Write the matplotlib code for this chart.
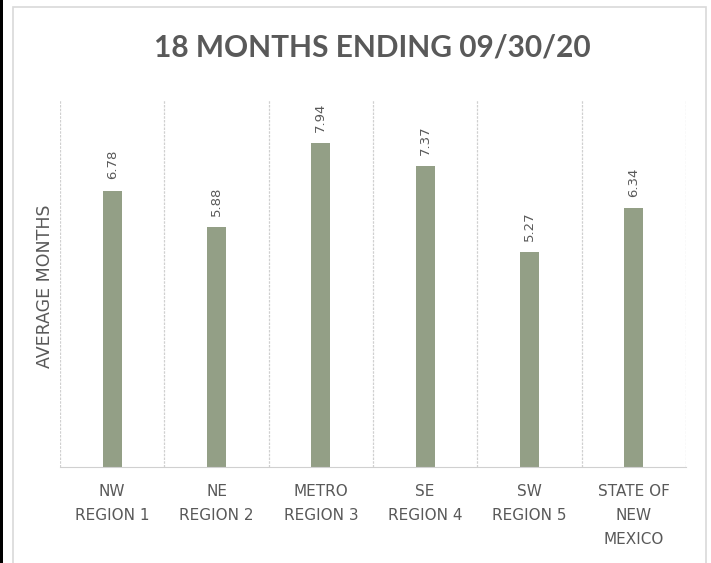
import matplotlib.pyplot as plt
from matplotlib.patches import Rectangle

categories = ["NW\nREGION 1", "NE\nREGION 2", "METRO\nREGION 3", "SE\nREGION 4", "SW\nREGION 5", "STATE OF\nNEW\nMEXICO"]
values = [6.78, 5.88, 7.94, 7.37, 5.27, 6.34]
value_labels = ["6.78", "5.88", "7.94", "7.37", "5.27", "6.34"]

BAR_COLOR = '#939f86'
TEXT_COLOR = '#595959'
GRID_COLOR = '#d0d0d0'

fig = plt.figure(figsize=(7.11, 5.63), dpi=100)
W, H = 711, 563

# chart frame and the dark strip at the left edge
fig.patches.append(Rectangle((13 / W, -0.05), (706 - 13) / W, (563 - 7) / H + 0.05,
                             transform=fig.transFigure, fill=False, edgecolor='#d9d9d9', lw=1.2))
fig.patches.append(Rectangle((0, 0), 3 / W, 1, transform=fig.transFigure,
                             facecolor='black', edgecolor='none'))

ax = fig.add_axes([60 / W, 1 - 467 / H, (686 - 60) / W, (467 - 100) / H])
x = range(len(categories))
ax.bar(x, values, width=0.18, color=BAR_COLOR, zorder=2)
ax.set_xlim(-0.5, len(categories) - 0.5)
ax.set_ylim(0, 9)

# separators between categories
for b in [i - 0.5 for i in range(len(categories) + 1)]:
    ax.axvline(b, color=GRID_COLOR, lw=0.9, ls=(0, (2, 1)), zorder=1)

for i, (v, lab) in enumerate(zip(values, value_labels)):
    ax.annotate(lab, (i, v), xytext=(0, 8), textcoords='offset points',
                rotation=90, ha='center', va='bottom', fontsize=9.5, color=TEXT_COLOR)

for s in ['top', 'right', 'left']:
    ax.spines[s].set_visible(False)
ax.spines['bottom'].set_color(GRID_COLOR)
ax.set_yticks([])
ax.set_xticks(list(x))
ax.set_xticklabels(categories, fontsize=11, color=TEXT_COLOR, linespacing=1.75)
ax.tick_params(axis='x', length=0, pad=12)

fig.text(45 / W, 1 - 286 / H, 'AVERAGE MONTHS', rotation=90, ha='center', va='center',
         fontsize=12.5, color=TEXT_COLOR)
fig.text(372 / W, 1 - 48 / H, '18 MONTHS ENDING 09/30/20', ha='center', va='center',
         fontsize=21.5, fontweight='bold', color=TEXT_COLOR, family=['Lato', 'DejaVu Sans'])

fig.savefig('out.png', dpi=100)
